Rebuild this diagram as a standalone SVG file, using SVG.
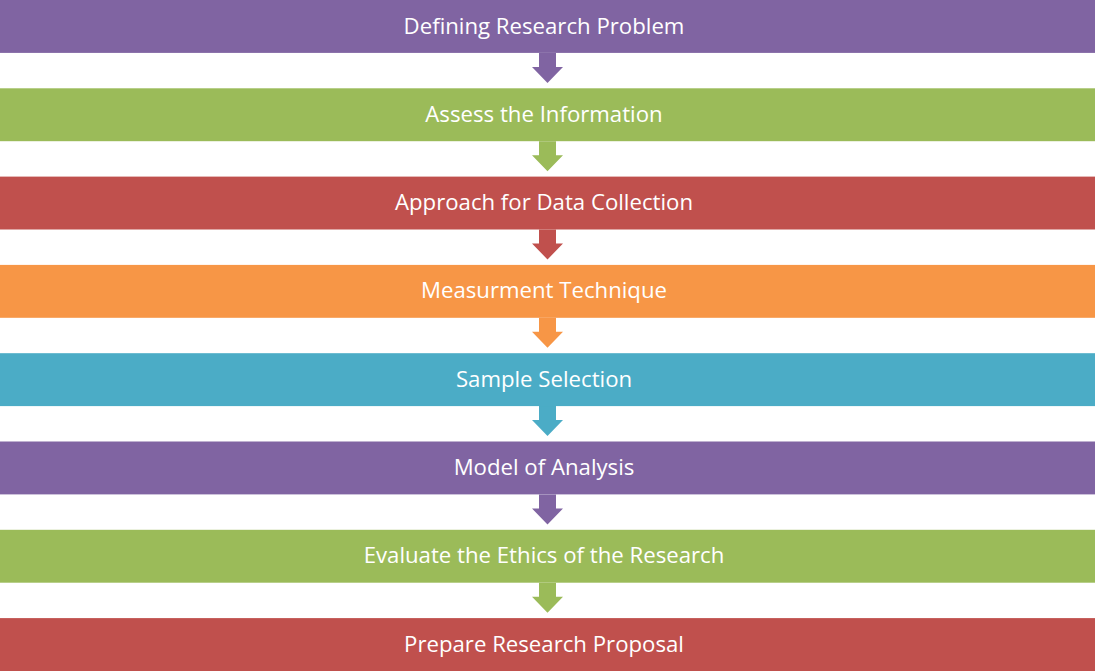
<svg xmlns="http://www.w3.org/2000/svg" width="1095" height="671" viewBox="0 0 1095 671">
<style>
.t{font-family:"Open Sans","Liberation Sans",sans-serif;font-size:22.2px;fill:#fff;text-anchor:middle}
.p{fill:#8064A2}.g{fill:#9BBB59}.r{fill:#C0504D}.o{fill:#F79646}.b{fill:#4BACC6}
</style>
<defs>
<path id="arr" d="M-8.5,0 H8.5 V14 H15.5 L0,30 L-15.5,14 H-8.5 Z"/>
</defs>
<rect width="1095" height="671" fill="#fff"/>
<g id="connectors">
<use href="#arr" class="p" x="547.5" y="52.9"/>
<use href="#arr" class="g" x="547.5" y="141.2"/>
<use href="#arr" class="r" x="547.5" y="229.5"/>
<use href="#arr" class="o" x="547.5" y="317.8"/>
<use href="#arr" class="b" x="547.5" y="406.1"/>
<use href="#arr" class="p" x="547.5" y="494.4"/>
<use href="#arr" class="g" x="547.5" y="582.7"/>
</g>
<g id="n1"><rect class="p" x="0" y="0" width="1095" height="52.9"/><text class="t" x="544" y="33.5">Defining Research Problem</text></g>
<g id="n2"><rect class="g" x="0" y="88.3" width="1095" height="52.9"/><text class="t" x="544" y="121.8">Assess the Information</text></g>
<g id="n3"><rect class="r" x="0" y="176.6" width="1095" height="52.9"/><text class="t" x="544" y="210.1">Approach for Data Collection</text></g>
<g id="n4"><rect class="o" x="0" y="264.9" width="1095" height="52.9"/><text class="t" x="544" y="298.4">Measurment Technique</text></g>
<g id="n5"><rect class="b" x="0" y="353.2" width="1095" height="52.9"/><text class="t" x="544" y="386.7">Sample Selection</text></g>
<g id="n6"><rect class="p" x="0" y="441.5" width="1095" height="52.9"/><text class="t" x="544" y="475">Model of Analysis</text></g>
<g id="n7"><rect class="g" x="0" y="529.8" width="1095" height="52.9"/><text class="t" x="544" y="563.3">Evaluate the Ethics of the Research</text></g>
<g id="n8"><rect class="r" x="0" y="618.1" width="1095" height="52.9"/><text class="t" x="544" y="651.6">Prepare Research Proposal</text></g>
</svg>
